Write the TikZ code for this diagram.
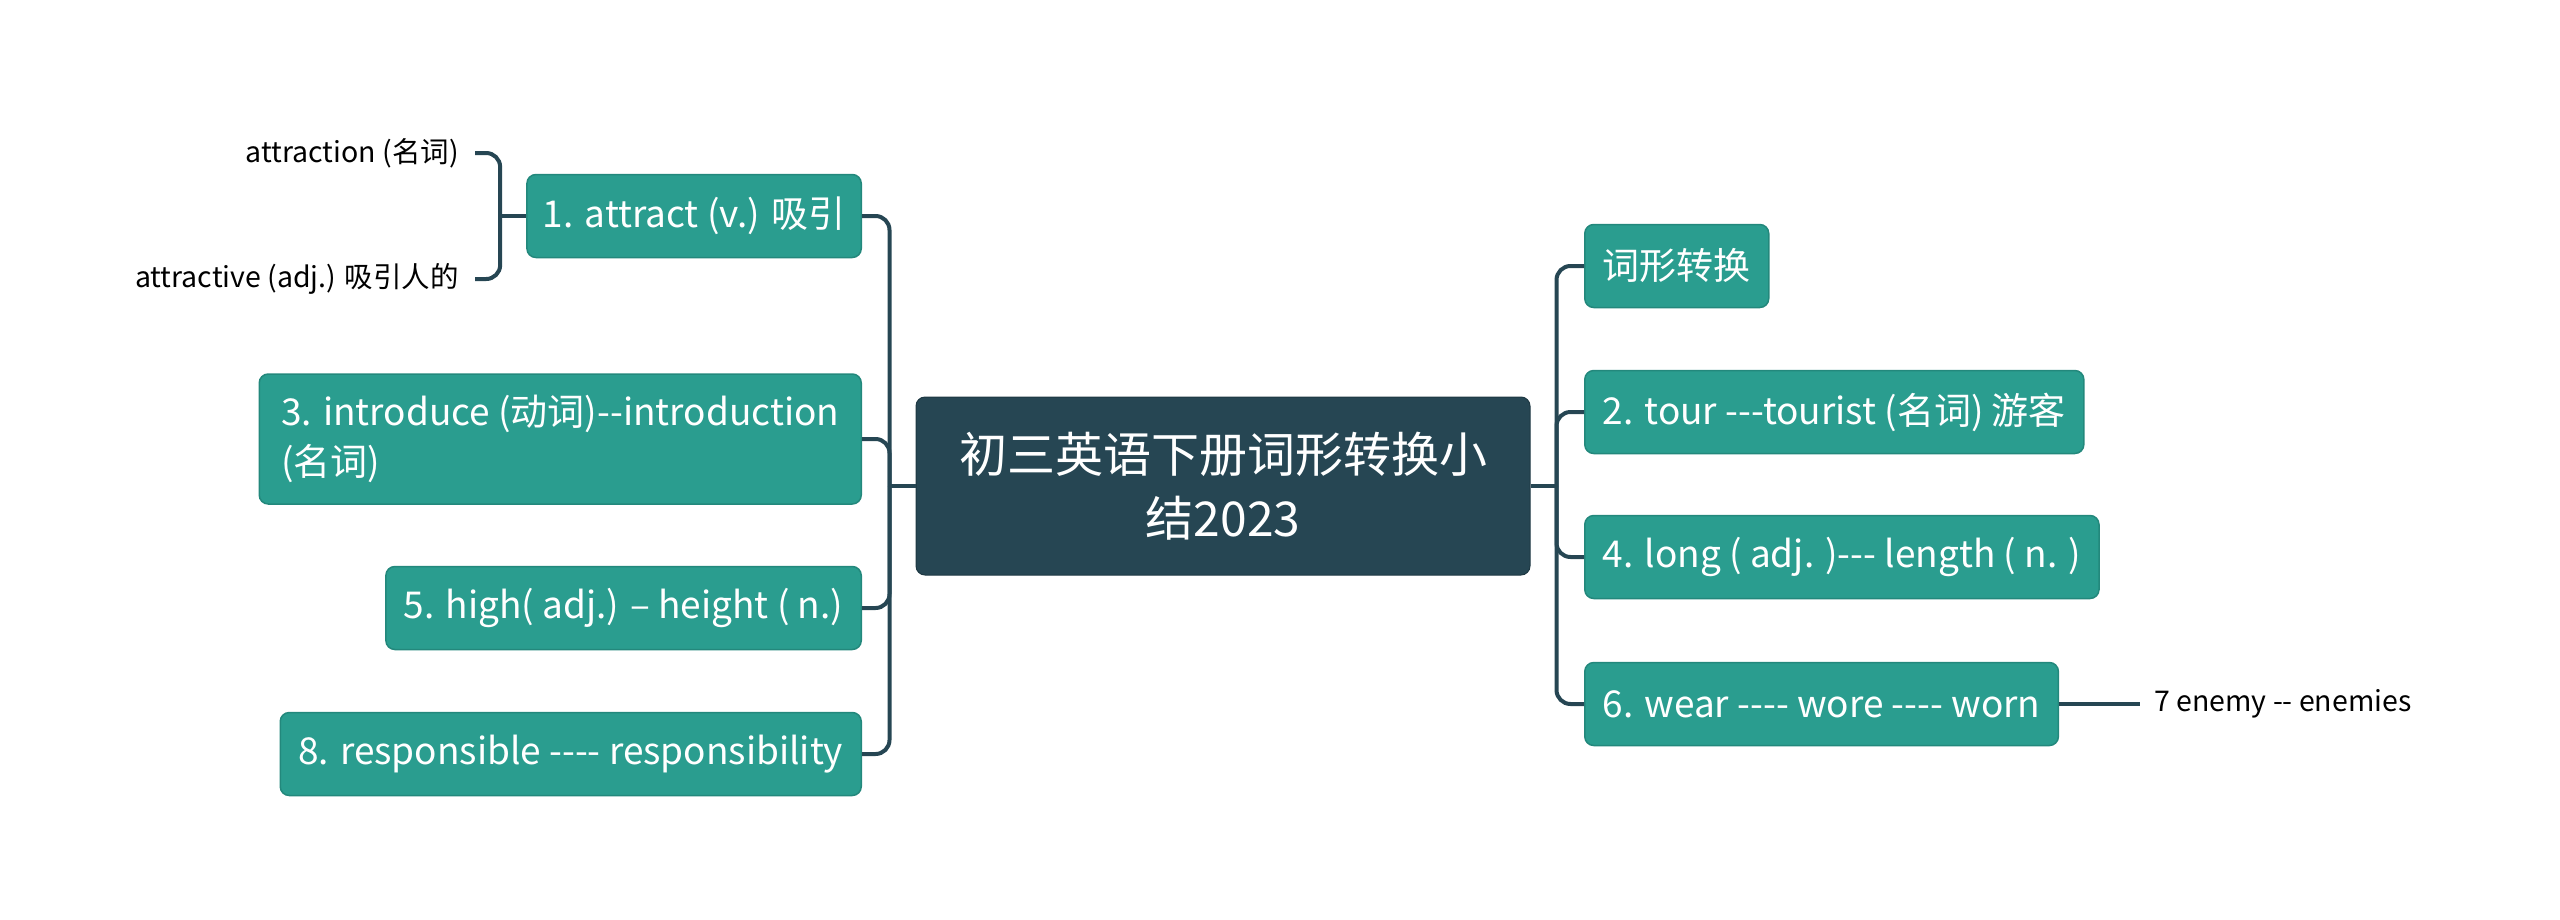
\documentclass[tikz,border=0pt]{standalone}
\usepackage{fontspec}
\setmainfont{Noto Sans CJK SC}[Ligatures=TeXOff]
\usepackage{xcolor}
\usetikzlibrary{positioning, calc}
\definecolor{rootfill}{HTML}{264653}
\definecolor{leaffill}{HTML}{2A9D8F}
\definecolor{leafedge}{HTML}{23887C}
\definecolor{linkcol}{HTML}{264653}
\tikzstyle{maintopic} = [rectangle, rounded corners=9pt, fill=rootfill, draw=rootfill!80!black, line width=1pt, text=white, align=center, font=\fontsize{48}{64}\selectfont, minimum width=614pt, minimum height=178pt]
\tikzstyle{topic} = [rectangle, rounded corners=9pt, fill=leaffill, draw=leafedge, line width=1.5pt, text=white, font=\fontsize{37}{50}\selectfont, minimum height=83pt, inner xsep=18pt]
\tikzstyle{subtopic} = [font=\fontsize{28.5}{34}\selectfont, text=black, inner xsep=16pt, inner ysep=4pt]
\tikzstyle{link} = [draw=linkcol, line width=4pt, rounded corners=14pt]

\begin{document}
\begin{tikzpicture}[x=1pt, y=-1pt]
    \useasboundingbox (0,0) rectangle (2560,919);
    \node (main) [maintopic] at (1223,486) {初三英语下册词形转换小\\结2023};

    % left branches
    \node (attract) [topic, anchor=east, inner xsep=16pt] at (862,216) {1. attract (v.) 吸引};
    \node (introduce) [topic, anchor=east, align=left, minimum width=602pt, minimum height=130pt] at (862,439) {3. introduce (动词)--introduction\\(名词)};
    \node (high) [topic, anchor=east] at (862,608) {5. high( adj.) – height ( n.)};
    \node (responsible) [topic, anchor=east] at (862,754) {8. responsible ---- responsibility};
    \node (attraction) [subtopic, anchor=east] at (475,153) {attraction (名词)};
    \node (attractive) [subtopic, anchor=east] at (475,279) {attractive (adj.) 吸引人的};

    % right branches
    \node (wordform) [topic, anchor=west] at (1584,266) {词形转换};
    \node (tour) [topic, anchor=west] at (1584,412) {2. tour ---tourist (名词) 游客};
    \node (long) [topic, anchor=west] at (1584,557) {4. long ( adj. )--- length ( n. )};
    \node (wear) [topic, anchor=west] at (1584,704) {6. wear ---- wore ---- worn};
    \node (enemy) [subtopic, anchor=west, inner xsep=14pt] at (2140,704) {7 enemy -- enemies};

    \coordinate (ltrunk) at ($(main.west)+(-26,0)$);
    \coordinate (rtrunk) at ($(main.east)+(26,0)$);
    \coordinate (abrk) at ($(attract.west)+(-26,0)$);

    \draw [link] (main.west) -- (ltrunk);
    \draw [link] (main.east) -- (rtrunk);
    \foreach \n in {attract, introduce, high, responsible}
        \draw [link] (ltrunk) |- (\n.east);
    \foreach \n in {wordform, tour, long, wear}
        \draw [link] (rtrunk) |- (\n.west);
    \draw [link] (attract.west) -- (abrk);
    \foreach \n in {attraction, attractive}
        \draw [link] (abrk) |- (\n.east);
    \draw [link] (wear.east) -- (enemy.west);
\end{tikzpicture}
\end{document}
